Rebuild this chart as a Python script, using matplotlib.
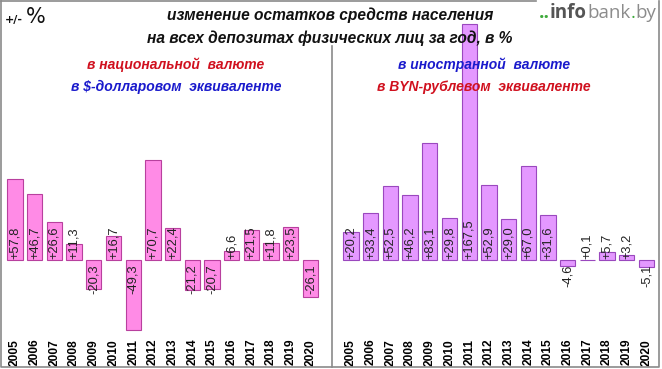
import numpy as np
import matplotlib
matplotlib.use("Agg")
import matplotlib.pyplot as plt
from matplotlib.lines import Line2D

years = [str(y) for y in range(2005, 2021)]
# national currency deposits, % change per year (USD equivalent)
national = [57.8, 46.7, 26.6, 11.3, -20.3, 16.7, -49.3, 70.7, 22.4,
            -21.2, -20.7, 6.6, 21.5, 11.8, 23.5, -26.1]
# foreign currency deposits, % change per year (BYN equivalent)
foreign = [20.2, 33.4, 52.5, 46.2, 83.1, 29.8, 167.5, 52.9, 29.0,
           67.0, 31.6, -4.6, 0.1, 5.7, 3.2, -5.1]

W, H = 662, 369
fig = plt.figure(figsize=(W / 100, H / 100), dpi=100)
fig.patch.set_facecolor("white")

PX = 1.41          # pixels per percent
base = 260         # baseline, px from top
ax_top, ax_bot = 20, 336


def fx(x):
    return x / W


def fy(y):
    return 1 - y / H


def make_axes(left, right, center0, values, face, edge):
    ax = fig.add_axes([fx(left), fy(ax_bot), fx(right - left), (ax_bot - ax_top) / H])
    ax.patch.set_alpha(0)
    step = 19.7
    ax.set_xlim((left - center0) / step, (right - center0) / step)
    ax.set_ylim(-(ax_bot - base) / PX, (base - ax_top) / PX)
    x = np.arange(len(values))
    ax.bar(x, values, width=0.78, color=face, edgecolor=edge, linewidth=0.8)
    for xi, v in zip(x, values):
        lab = f"{v:+.1f}".replace(".", ",")
        if v >= 0:
            ax.text(xi, 1.0, lab, rotation=90, ha="center", va="bottom",
                    fontsize=9.3, family="Liberation Sans", color="#222222")
        else:
            ax.text(xi, -3.0, lab, rotation=90, ha="center", va="top",
                    fontsize=9.3, family="Liberation Sans", color="#222222")
    ax.set_xticks(x)
    ax.set_xticklabels(years, rotation=90, fontsize=8.6, fontweight="bold",
                       family="Liberation Sans")
    ax.tick_params(axis="x", length=0, pad=2)
    ax.set_yticks([])
    for s in ax.spines.values():
        s.set_visible(False)
    return ax


make_axes(0, 332, 15, national, "#FF8BE6", "#B8409E")
make_axes(332, 662, 351, foreign, "#E498FF", "#9A48BE")

# frame and divider
fig.add_artist(Line2D([fx(1), fx(1), fx(659), fx(659)], [fy(1), fy(367), fy(367), fy(1)],
                      color="#8a8a8a", lw=1.2))
fig.add_artist(Line2D([fx(1), fx(536)], [fy(1), fy(1)], color="#8a8a8a", lw=1.2))
fig.add_artist(Line2D([fx(332), fx(332)], [fy(46), fy(367)], color="#8a8a8a", lw=1.2))

tfont = dict(family=["Liberation Sans", "DejaVu Sans"], fontweight="bold", style="italic")
fig.text(fx(330), fy(15), "изменение остатков средств населения", ha="center", va="center",
         fontsize=11.2, color="#111111", **tfont)
fig.text(fx(330), fy(38), "на всех депозитах физических лиц за год, в %", ha="center",
         va="center", fontsize=11.2, color="#111111", **tfont)

fig.text(fx(176), fy(65), "в национальной  валюте", ha="center", va="center",
         fontsize=10, color="#D0101E", **tfont)
fig.text(fx(176), fy(87), "в $-долларовом  эквиваленте", ha="center", va="center",
         fontsize=10, color="#1A1ACC", **tfont)
fig.text(fx(484), fy(65), "в иностранной  валюте", ha="center", va="center",
         fontsize=10, color="#1A1ACC", **tfont)
fig.text(fx(484), fy(87), "в BYN-рублевом  эквиваленте", ha="center", va="center",
         fontsize=10, color="#D0101E", **tfont)

fig.text(fx(5), fy(20), "+/-", ha="left", va="center", fontsize=8, fontweight="bold",
         color="#111111")
fig.text(fx(26), fy(17), "%", ha="left", va="center", fontsize=15, color="#111111")

# logo: pieces laid out one after another
renderer = fig.canvas.get_renderer()
pieces = [("..", "#3DAA3A", "bold"), ("info", "#555555", "bold"),
          ("bank", "#8c8c8c", "normal"), (".", "#3DAA3A", "normal"),
          ("by", "#8c8c8c", "normal")]
xpos = 539
for txt, col, wt in pieces:
    t = fig.text(fx(xpos), fy(13), txt, color=col, fontweight=wt, family="Open Sans",
                 fontsize=13.5, va="center", ha="left")
    xpos += t.get_window_extent(renderer).width

fig.savefig("out.png", dpi=100)
